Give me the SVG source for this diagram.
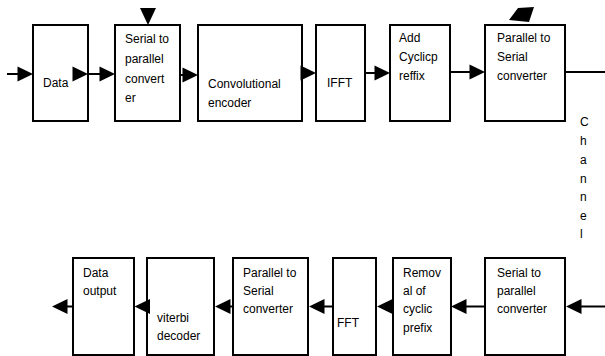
<svg xmlns="http://www.w3.org/2000/svg" xmlns:xlink="http://www.w3.org/1999/xlink" width="605" height="356" viewBox="0 0 605 356">
<style>
.box{fill:#fff;stroke:#000;stroke-width:2}
.ln{stroke:#000;stroke-width:2;fill:none}
.ah{fill:#000}
text{font-family:"Liberation Sans",Arial,sans-serif;font-size:12px;fill:#000}
</style>
<defs>
<path id="ahR" class="ah" d="M0,0 L-15.5,-7.5 L-15.5,7.5 Z"/>
<path id="ahL" class="ah" d="M0,0 L15.5,-7.5 L15.5,7.5 Z"/>
</defs>
<rect width="605" height="356" fill="#fff"/>

<g id="tx-data"><rect class="box" x="33" y="25" width="55" height="96"/><text x="43" y="87">Data</text></g>
<g id="tx-s2p"><rect class="box" x="115" y="25" width="65" height="96"/><text x="125" y="43">Serial to</text><text x="125" y="63">parallel</text><text x="125" y="83">convert</text><text x="125" y="102">er</text></g>
<g id="tx-conv"><rect class="box" x="198" y="25" width="104" height="96"/><text x="208" y="88">Convolutional</text><text x="208" y="107">encoder</text></g>
<g id="tx-ifft"><rect class="box" x="316" y="25" width="49" height="96"/><text x="327" y="87">IFFT</text></g>
<g id="tx-cp"><rect class="box" x="390" y="25" width="60" height="96"/><text x="399" y="42">Add</text><text x="399" y="61">Cyclicp</text><text x="399" y="80">reffix</text></g>
<g id="tx-p2s"><rect class="box" x="485" y="25" width="80" height="96"/><text x="497" y="42">Parallel to</text><text x="497" y="61">Serial</text><text x="497" y="80">converter</text></g>

<g id="channel"><text x="580" y="126">C</text><text x="580" y="145">h</text><text x="580" y="164">a</text><text x="580" y="183">n</text><text x="580" y="201">n</text><text x="580" y="220">e</text><text x="580" y="238">l</text></g>

<g id="rx-data"><rect class="box" x="73" y="258" width="61" height="97"/><text x="83" y="277">Data</text><text x="83" y="295">output</text></g>
<g id="rx-viterbi"><rect class="box" x="147" y="258" width="67" height="97"/><text x="157" y="322">viterbi</text><text x="157" y="340">decoder</text></g>
<g id="rx-p2s"><rect class="box" x="233" y="258" width="75" height="97"/><text x="243" y="277">Parallel to</text><text x="243" y="295">Serial</text><text x="243" y="313">converter</text></g>
<g id="rx-fft"><rect class="box" x="333" y="258" width="43" height="97"/><text x="337" y="327">FFT</text></g>
<g id="rx-cp"><rect class="box" x="393" y="258" width="58" height="97"/><text x="403" y="277">Remov</text><text x="403" y="295">al of</text><text x="403" y="313">cyclic</text><text x="403" y="332">prefix</text></g>
<g id="rx-s2p"><rect class="box" x="485" y="258" width="80" height="97"/><text x="497" y="277">Serial to</text><text x="497" y="295">parallel</text><text x="497" y="313">converter</text></g>

<g id="connectors">
<line class="ln" x1="7" y1="74" x2="22" y2="74"/><use xlink:href="#ahR" x="33" y="74"/>
<use xlink:href="#ahR" x="88" y="74"/>
<line class="ln" x1="88" y1="74" x2="101" y2="74"/><use xlink:href="#ahR" x="115" y="74"/>
<line class="ln" x1="180" y1="75" x2="184" y2="75"/><use xlink:href="#ahR" x="198" y="75"/>
<use xlink:href="#ahR" x="316" y="73"/>
<line class="ln" x1="365" y1="73" x2="376" y2="73"/><use xlink:href="#ahR" x="390" y="73"/>
<line class="ln" x1="450" y1="72" x2="471" y2="72"/><use xlink:href="#ahR" x="485" y="72"/>
<line class="ln" x1="565" y1="72" x2="605" y2="72"/>
<polygon class="ah" points="140,8 156,8 148,25"/>
<polygon class="ah" points="509,20 518,8 534,7 529,22"/>

<line class="ln" x1="605" y1="306.5" x2="580" y2="306.5"/><use xlink:href="#ahL" x="566" y="306.5"/>
<line class="ln" x1="485" y1="306.5" x2="464" y2="306.5"/><use xlink:href="#ahL" x="451" y="306.5"/>
<use xlink:href="#ahL" x="377" y="306.5"/>
<line class="ln" x1="333" y1="306.5" x2="322" y2="306.5"/><use xlink:href="#ahL" x="309" y="306.5"/>
<line class="ln" x1="233" y1="306.5" x2="228" y2="306.5"/><use xlink:href="#ahL" x="215" y="306.5"/>
<use xlink:href="#ahL" x="134.5" y="306.5"/>
<line class="ln" x1="73" y1="306.5" x2="65" y2="306.5"/><use xlink:href="#ahL" x="52" y="306.5"/>
</g>
</svg>
